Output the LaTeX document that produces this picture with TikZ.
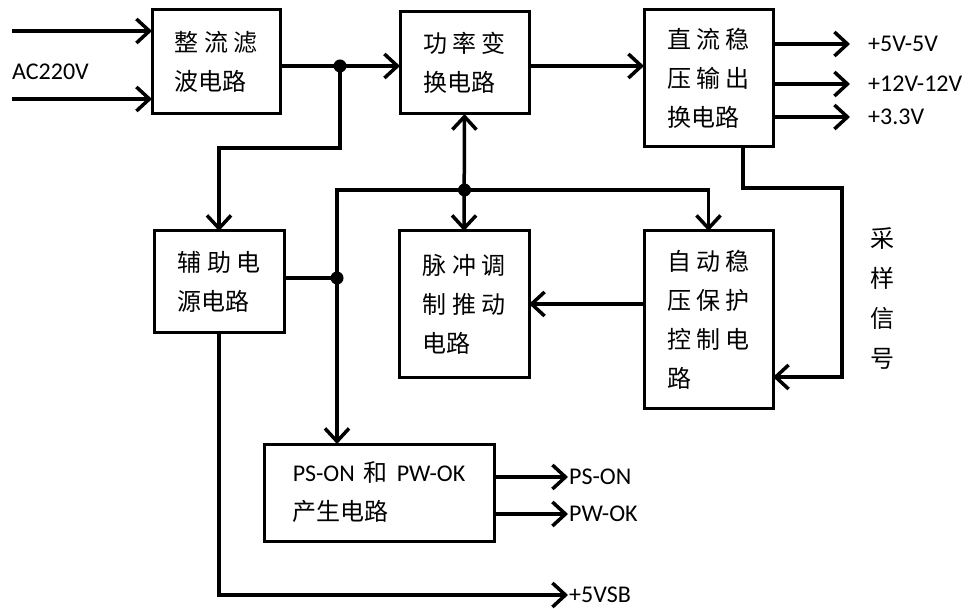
\documentclass[tikz,border=0pt]{standalone}
\usepackage{fontspec}
\setmainfont{Carlito}
\newfontfamily\cjk{Noto Sans CJK SC}
\usetikzlibrary{arrows.meta}

\begin{document}
\begin{tikzpicture}[x=1pt, y=-1pt,
      blk/.style={rectangle, draw, line width=3pt, anchor=north west,
                  inner sep=0pt, outer sep=0pt, align=left,
                  font=\cjk\fontsize{24}{39}\selectfont},
      lbl/.style={font=\fontsize{24}{28}\selectfont, inner sep=1pt, anchor=west},
      wire/.style={line width=3.5pt},
      arr/.style={wire, -{Straight Barb[length=13pt, width=24pt]}},
      arrs/.style={wire, {Straight Barb[length=13pt, width=24pt]}-{Straight Barb[length=13pt, width=24pt]}}
    ]
    \useasboundingbox (0,0) rectangle (971,609);
    \node[blk, minimum width=128pt, minimum height=104pt] (zl) at (152,10) {整 流 滤\\波电路};
    \node[blk, minimum width=129pt, minimum height=102pt] (gl) at (400,12) {功 率 变\\换电路};
    \node[blk, minimum width=129pt, minimum height=137pt] (wy) at (644,10) {直 流 稳\\压 输 出\\换电路};
    \node[blk, minimum width=130pt, minimum height=101pt] (fz) at (154,231) {辅 助 电\\源电路};
    \node[blk, minimum width=130pt, minimum height=146pt] (mc) at (399,231) {脉 冲 调\\制 推 动\\电路};
    \node[blk, minimum width=129pt, minimum height=177pt] (bh) at (644,231) {自 动 稳\\压 保 护\\控 制 电\\路};
    \node[blk, minimum width=230pt, minimum height=97pt] (ps) at (264,444)
      {{\rmfamily PS-ON}\hspace{9pt}和\hspace{9pt}{\rmfamily PW-OK}\\产生电路};

    \node[lbl] (ac) at (11,72) {AC220V};
    \coordinate (ac1) at (12,31);
    \coordinate (ac2) at (12,99);
    \draw[arr] (ac1) -- (ac1 -| zl.west);
    \draw[arr] (ac2) -- (ac2 -| zl.west);

    \coordinate (j1) at (340,66);
    \coordinate (j2) at (gl.south |- 0,190);
    \coordinate (j3) at (337,278);
    \draw[arr] (zl.east |- j1) -- (j1) -- ++(0,82) -| (fz.north);
    \draw[arr] (j1) -- (j1 -| gl.west);
    \draw[arr] (gl.east |- j1) -- (j1 -| wy.west);
    \draw[arrs] (gl.south) -- (mc.north);
    \draw[arrs] (j3 |- ps.north) |- (j2) -| (bh.north);
    \draw[wire] (fz.east |- j3) -- (j3);
    \draw[arr] (bh.west |- mc.east) -- (mc.east);
    \fill (j1) circle (6.5pt);
    \fill (j2) circle (6.5pt);
    \fill (j3) circle (6.5pt);

    \coordinate (fb) at (743,188);
    \coordinate (fc) at (842,377);
    \draw[arr] (wy.south -| fb) -- (fb) -| (fc) -- (fc -| bh.east);
    \node[align=center, font=\cjk\fontsize{24}{40}\selectfont] (cy) at (882,298) {采\\样\\信\\号};

    \node[lbl, inner xsep=18pt] (v1) at (850,44) {+5V-5V};
    \node[lbl, inner xsep=18pt] (v2) at (850,84) {+12V-12V};
    \node[lbl, inner xsep=18pt] (v3) at (850,117) {+3.3V};
    \draw[arr] (wy.east |- v1) -- (v1.west);
    \draw[arr] (wy.east |- v2) -- (v2.west);
    \draw[arr] (wy.east |- v3) -- (v3.west);

    \node[lbl] (pon) at (568,477) {PS-ON};
    \node[lbl] (pok) at (568,514) {PW-OK};
    \node[lbl] (sb) at (568,595) {+5VSB};
    \draw[arr] (ps.east |- pon) -- (pon.west);
    \draw[arr] (ps.east |- pok) -- (pok.west);
    \draw[arr] (fz.south) |- (sb.west);
  \end{tikzpicture}
\end{document}
